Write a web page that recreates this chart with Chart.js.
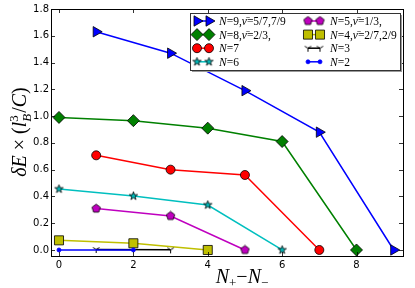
<!DOCTYPE html>
<html>
<head>
<meta charset="utf-8">
<script src="https://cdn.jsdelivr.net/npm/chart.js@4/dist/chart.umd.min.js"></script>
<style>
  html, body { margin: 0; padding: 0; background: #fff; }
  #wrap { width: 415px; height: 288px; }
</style>
</head>
<body>
<div id="wrap"><canvas id="grafico"></canvas></div>
<script>
// dados
const x9 = [1, 3, 5, 7, 9];
const y9 = [1.63, 1.47, 1.19, 0.88, 0.0];
const x8 = [0, 2, 4, 6, 8];
const y8 = [0.99, 0.966, 0.91, 0.81, 0.0];
const x7 = [1, 3, 5, 7];
const y7 = [0.707, 0.60, 0.56, 0.0];
const x6 = [0, 2, 4, 6];
const y6 = [0.455, 0.403, 0.336, 0.0];
const x5 = [1, 3, 5];
const y5 = [0.309, 0.254, 0.0];
const x4 = [0, 2, 4];
const y4 = [0.072, 0.05, 0.0];
const x3 = [1, 3];
const y3 = [0.004, 0.001];
const x2 = [0, 2];
const y2 = [0.0, 0.0];

const legendLabels = ['N=9,ν̄=5/7,7/9', 'N=8,ν̄=2/3,', 'N=7', 'N=6',
                      'N=5,ν̄=1/3,', 'N=4,ν̄=2/7,2/9', 'N=3', 'N=2'];
const xTicks = [0, 2, 4, 6, 8];
const yTicks = [0.0, 0.2, 0.4, 0.6, 0.8, 1.0, 1.2, 1.4, 1.6, 1.8];

const MATH = '"Liberation Serif", "DejaVu Serif", serif';

// marcadores que o Chart.js não tem
function makeMarker(size, draw) {
    const c = document.createElement('canvas');
    c.width = size; c.height = size;
    const g = c.getContext('2d');
    g.translate(size / 2, size / 2);
    draw(g);
    return c;
}
function polygon(g, pts, fill) {
    g.beginPath();
    pts.forEach((p, i) => i ? g.lineTo(p[0], p[1]) : g.moveTo(p[0], p[1]));
    g.closePath();
    g.fillStyle = fill; g.fill();
    g.strokeStyle = '#000'; g.lineWidth = 0.8; g.stroke();
}
const starMarker = makeMarker(11, g => {
    const pts = [];
    for (let i = 0; i < 10; i++) {
        const r = i % 2 ? 1.7 : 4.4;
        const a = -Math.PI / 2 + i * Math.PI / 5;
        pts.push([Math.cos(a) * r, Math.sin(a) * r]);
    }
    polygon(g, pts, '#00bfbf');
});
const pentMarker = makeMarker(11, g => {
    const pts = [];
    for (let i = 0; i < 5; i++) {
        const a = -Math.PI / 2 + i * 2 * Math.PI / 5;
        pts.push([Math.cos(a) * 4.4, Math.sin(a) * 4.4]);
    }
    polygon(g, pts, '#bf00bf');
});
const triMarker = makeMarker(11, g => {
    g.strokeStyle = '#000'; g.lineWidth = 1;
    g.beginPath();
    g.moveTo(0, 0); g.lineTo(0, 3.5);
    g.moveTo(0, 0); g.lineTo(-3.2, -2);
    g.moveTo(0, 0); g.lineTo(3.2, -2);
    g.stroke();
});

const pares = (xs, ys) => xs.map((x, i) => ({ x: x, y: ys[i] }));

function serie(label, xs, ys, color, style, radius, rotation) {
    return {
        label: label,
        data: pares(xs, ys),
        borderColor: color,
        backgroundColor: color,
        borderWidth: 1.5,
        pointStyle: style,
        pointRadius: radius,
        pointRotation: rotation || 0,
        pointBackgroundColor: color,
        pointBorderColor: style === 'circle' && radius < 3 ? color : '#000',
        pointBorderWidth: 0.8,
        tension: 0
    };
}

const datasets = [
    serie(legendLabels[7], x2, y2, '#0000ff', 'circle', 2),
    serie(legendLabels[6], x3, y3, '#000000', triMarker, 5),
    serie(legendLabels[5], x4, y4, '#bfbf00', 'rect', 6.4),
    serie(legendLabels[4], x5, y5, '#bf00bf', pentMarker, 5),
    serie(legendLabels[3], x6, y6, '#00bfbf', starMarker, 5),
    serie(legendLabels[2], x7, y7, '#ff0000', 'circle', 4.5),
    serie(legendLabels[1], x8, y8, '#008000', 'rectRot', 6),
    serie(legendLabels[0], x9, y9, '#0000ff', 'triangle', 6, 90)
];

// escreve texto matemático em pedaços (itálico / normal / índices)
function drawRuns(ctx, runs, x, y, align) {
    const widths = runs.map(r => {
        ctx.font = (r.it ? 'italic ' : '') + r.size + 'px ' + MATH;
        return r.adv === undefined ? ctx.measureText(r.t).width : r.adv;
    });
    let total = 0;
    runs.forEach((r, i) => { total += r.stack ? 0 : widths[i]; });
    let cx = align === 'center' ? x - total / 2 : x;
    runs.forEach((r, i) => {
        ctx.font = (r.it ? 'italic ' : '') + r.size + 'px ' + MATH;
        ctx.fillText(r.t, cx, y + (r.dy || 0));
        if (!r.stack) cx += widths[i];
    });
}
function mathLabel(text, size) {
    // letras em itálico, dígitos e sinais normais
    const runs = [];
    for (const ch of text) {
        const it = /[A-Za-zν\u0304]/.test(ch);
        const last = runs[runs.length - 1];
        if (last && last.it === it) last.t += ch;
        else runs.push({ t: ch, it: it, size: size });
    }
    return runs;
}

const moldura = {
    id: 'moldura',
    afterDatasetsDraw(chart) {
        const { ctx, chartArea: a, scales } = chart;
        ctx.save();
        // ticks para dentro, nos quatro lados
        ctx.strokeStyle = '#000';
        ctx.lineWidth = 0.8;
        ctx.beginPath();
        xTicks.forEach(v => {
            const px = Math.round(scales.x.getPixelForValue(v)) + 0.5;
            ctx.moveTo(px, a.bottom); ctx.lineTo(px, a.bottom - 4);
            ctx.moveTo(px, a.top); ctx.lineTo(px, a.top + 4);
        });
        yTicks.forEach(v => {
            const py = Math.round(scales.y.getPixelForValue(v)) + 0.5;
            ctx.moveTo(a.left, py); ctx.lineTo(a.left + 4, py);
            ctx.moveTo(a.right, py); ctx.lineTo(a.right - 4, py);
        });
        ctx.stroke();
        ctx.lineWidth = 1;
        ctx.strokeRect(Math.round(a.left) + 0.5, Math.round(a.top) + 0.5,
                       Math.round(a.right - a.left), Math.round(a.bottom - a.top));

        // legenda em duas colunas
        const bx = 190, by = 13, bw = 210, bh = 57;
        ctx.fillStyle = '#999';
        ctx.fillRect(bx + 2, by + 2, bw, bh);
        ctx.fillStyle = '#fff';
        ctx.fillRect(bx, by, bw, bh);
        ctx.strokeStyle = '#333';
        ctx.strokeRect(bx + 0.5, by + 0.5, bw, bh);

        const ordem = [7, 6, 5, 4, 3, 2, 1, 0];
        ordem.forEach((di, k) => {
            const ds = chart.data.datasets[di];
            const col = Math.floor(k / 4), row = k % 4;
            const y = 21 + row * 13.6;
            const m0 = col ? 308 : 197, m1 = col ? 320 : 209;
            ctx.strokeStyle = ds.borderColor;
            ctx.lineWidth = 1.5;
            ctx.beginPath(); ctx.moveTo(m0, y); ctx.lineTo(m1, y); ctx.stroke();
            [m0, m1].forEach(mx => {
                ctx.fillStyle = ds.pointBackgroundColor;
                ctx.strokeStyle = ds.pointBorderColor;
                ctx.lineWidth = ds.pointBorderWidth;
                Chart.helpers.drawPoint(ctx, {
                    pointStyle: ds.pointStyle, radius: ds.pointRadius,
                    rotation: ds.pointRotation, borderWidth: ds.pointBorderWidth
                }, mx, y);
            });
            ctx.fillStyle = '#000';
            ctx.textBaseline = 'alphabetic';
            ctx.textAlign = 'left';
            drawRuns(ctx, mathLabel(ds.label, 11.5), col ? 330 : 219, y + 4, 'left');
        });

        // títulos dos eixos
        ctx.fillStyle = '#000';
        ctx.textAlign = 'left';
        drawRuns(ctx, [
            { t: 'N', it: true, size: 20 },
            { t: '+', it: false, size: 13, dy: 4 },
            { t: '−', it: false, size: 20 },
            { t: 'N', it: true, size: 20 },
            { t: '−', it: false, size: 13, dy: 4 }
        ], 242, 283, 'center');

        ctx.translate(26, 132);
        ctx.rotate(-Math.PI / 2);
        drawRuns(ctx, [
            { t: 'δE', it: true, size: 20 },
            { t: ' × (', it: false, size: 20 },
            { t: 'l', it: true, size: 20 },
            { t: '3', it: false, size: 13, dy: -8, stack: true },
            { t: 'B', it: true, size: 13, dy: 5, adv: 9 },
            { t: '/', it: false, size: 20 },
            { t: 'C', it: true, size: 20 },
            { t: ')', it: false, size: 20 }
        ], 0, 0, 'center');
        ctx.restore();
    }
};

new Chart(document.getElementById('grafico'), {
    type: 'line',
    data: { datasets: datasets },
    options: {
        responsive: true,
        maintainAspectRatio: false,
        animation: false,
        events: [],
        layout: { padding: { top: 9, right: 12, left: 0, bottom: 0 } },
        plugins: {
            legend: { display: false },
            tooltip: { enabled: false }
        },
        scales: {
            x: {
                type: 'linear',
                min: -0.215,
                max: 9.25,
                afterBuildTicks: s => { s.ticks = xTicks.map(v => ({ value: v })); },
                afterFit: s => { s.height = 32; },
                grid: { display: false, drawTicks: false },
                border: { display: false },
                ticks: {
                    color: '#000',
                    padding: 3,
                    autoSkip: false,
                    maxRotation: 0,
                    font: { family: 'DejaVu Sans', size: 10 },
                    callback: v => String(v)
                }
            },
            y: {
                type: 'linear',
                min: -0.045,
                max: 1.8,
                afterBuildTicks: s => { s.ticks = yTicks.map(v => ({ value: v })); },
                afterFit: s => { s.width = 51; },
                grid: { display: false, drawTicks: false },
                border: { display: false },
                ticks: {
                    color: '#000',
                    padding: 2,
                    autoSkip: false,
                    font: { family: 'DejaVu Sans', size: 10 },
                    callback: v => v.toFixed(1)
                }
            }
        }
    },
    plugins: [moldura]
});
</script>
</body>
</html>
